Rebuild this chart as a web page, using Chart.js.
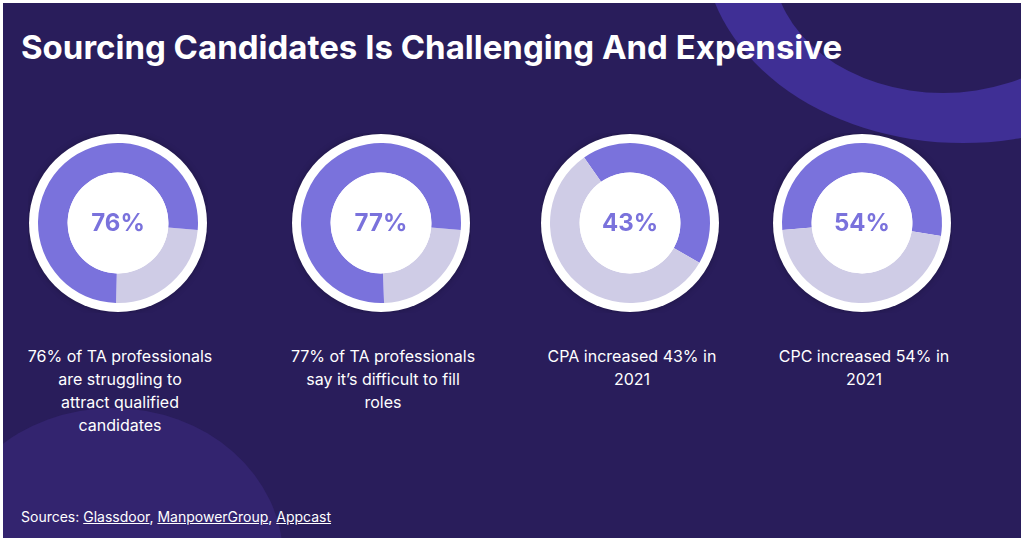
<!DOCTYPE html>
<html><head><meta charset="utf-8">
<script src="https://cdn.jsdelivr.net/npm/chart.js@4"></script>
<style>
body{margin:0;background:#fff;font-family:Inter,"Open Sans",sans-serif}
#slide{position:absolute;left:3px;top:3px;width:1018px;height:535px;background:#291d5b;overflow:hidden}
.blob{position:absolute;border-radius:50%}
h1{position:absolute;left:18px;top:24px;margin:0;color:#fff;font-size:33px;font-weight:700;letter-spacing:0px}
.cv{position:absolute;top:130px;width:180px;height:180px}
.cap{position:absolute;top:342px;width:200px;text-align:center;color:#fff;font-size:16px;line-height:23px}
.src{position:absolute;left:18px;top:505px;color:#fff;font-size:14px}
.src u{text-decoration:underline}
</style></head><body>
<div id="slide">
 <div class="blob" style="left:700px;top:-260px;width:520px;height:400px;background:#3f2f95"></div>
 <div class="blob" style="left:770px;top:-170px;width:340px;height:260px;background:#291d5b"></div>
 <div class="blob" style="left:-60px;top:405px;width:340px;height:300px;background:#33246f"></div>
 <h1>Sourcing Candidates Is Challenging And Expensive</h1>
 <div class="cv" style="left:25px"><canvas id="c0"></canvas></div>
 <div class="cv" style="left:288px"><canvas id="c1"></canvas></div>
 <div class="cv" style="left:537px"><canvas id="c2"></canvas></div>
 <div class="cv" style="left:769px"><canvas id="c3"></canvas></div>
 <div class="cap" style="left:17px">76% of TA professionals<br>are struggling to<br>attract qualified<br>candidates</div>
 <div class="cap" style="left:280px">77% of TA professionals<br>say it’s difficult to fill<br>roles</div>
 <div class="cap" style="left:529px">CPA increased 43% in<br>2021</div>
 <div class="cap" style="left:761px">CPC increased 54% in<br>2021</div>
 <div class="src">Sources: <u>Glassdoor</u>, <u>ManpowerGroup</u>, <u>Appcast</u></div>
</div>
<script>
const values = [76, 77, 43, 54];
const labels = ['76%', '77%', '43%', '54%'];
// first two charts draw the empty part first (clockwise from 3 o'clock)
const emptyFirst = [true, true, false, false];
const rotations = [95, 95, -35, -95];

const ringBack = {
  id: 'ringBack',
  beforeDatasetsDraw(chart) {
    const a = chart.getDatasetMeta(0).data[0];
    const c = chart.ctx;
    c.save();
    c.shadowColor = 'rgba(0,0,0,0.25)'; c.shadowBlur = 6;
    c.fillStyle = '#fff';
    c.beginPath(); c.arc(a.x, a.y, a.outerRadius + 9, 0, Math.PI * 2); c.fill();
    c.restore();
  },
  afterDatasetsDraw(chart) {
    const a = chart.getDatasetMeta(0).data[0];
    const c = chart.ctx;
    c.save();
    c.fillStyle = '#fff';
    c.beginPath(); c.arc(a.x, a.y, a.innerRadius, 0, Math.PI * 2); c.fill();
    c.fillStyle = '#7a72dc';
    c.font = 'bold 24px Inter, sans-serif';
    c.textAlign = 'center'; c.textBaseline = 'middle';
    c.fillText(chart.options.plugins.centerText, a.x, a.y + 1);
    c.restore();
  }
};

values.forEach((v, i) => {
  const data = emptyFirst[i] ? [100 - v, v] : [v, 100 - v];
  const colors = emptyFirst[i] ? ['#cfcce6', '#7a72dc'] : ['#7a72dc', '#cfcce6'];
  new Chart(document.getElementById('c' + i), {
    type: 'doughnut',
    data: { datasets: [{ data: data, backgroundColor: colors, borderWidth: 0 }] },
    options: {
      responsive: true, maintainAspectRatio: false, animation: false,
      rotation: rotations[i], cutout: '63%',
      layout: { padding: 10 },
      plugins: { legend: { display: false }, tooltip: { enabled: false }, centerText: labels[i] }
    },
    plugins: [ringBack]
  });
});
</script>
</body></html>
